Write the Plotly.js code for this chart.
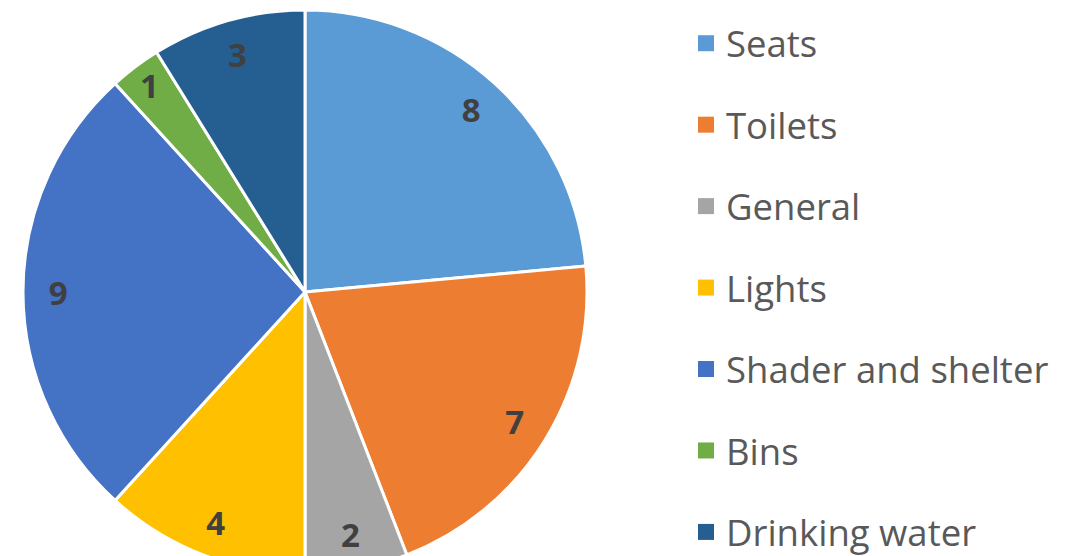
<!DOCTYPE html>
<html>
<head>
<meta charset="utf-8">
<script src="https://cdn.plot.ly/plotly-3.0.1.min.js"></script>
<style>
html, body { margin: 0; padding: 0; background: #ffffff; overflow: hidden; }
#chart { width: 1077px; height: 600px; }
</style>
</head>
<body>
<div id="chart"></div>
<script>
const categories = ["Seats", "Toilets", "General", "Lights", "Shader and shelter", "Bins", "Drinking water"];
const counts = [8, 7, 2, 4, 9, 1, 3];
const colors = ["#5B9BD5", "#ED7D31", "#A5A5A5", "#FFC000", "#4472C4", "#70AD47", "#255E91"];

const W = 1077, H = 600;
const pieDomain = { x: [23 / W, 587 / W], y: [1 - 574 / H, 1 - 10 / H] };

const traces = [];
// main pie
traces.push({
  type: "pie",
  labels: categories,
  values: counts,
  sort: false,
  direction: "clockwise",
  rotation: 0,
  marker: { colors: colors, line: { color: "#ffffff", width: 3 } },
  textinfo: "none",
  hoverinfo: "label+value",
  showlegend: false,
  domain: pieDomain
});
// label ring (transparent) to place value labels near outer edge
traces.push({
  type: "pie",
  labels: categories,
  values: counts,
  sort: false,
  direction: "clockwise",
  rotation: 0,
  hole: 0.75,
  marker: { colors: categories.map(() => "rgba(0,0,0,0)"), line: { width: 0 } },
  textinfo: "value",
  textposition: "inside",
  insidetextorientation: "horizontal",
  textfont: { family: "Open Sans, sans-serif", size: 33, color: "#404040", weight: "bold" },
  hoverinfo: "skip",
  showlegend: false,
  domain: pieDomain
});
// legend entries
categories.forEach((c, i) => {
  traces.push({
    type: "scatter",
    mode: "markers",
    x: [null], y: [null],
    name: c,
    legendgroup: "g" + i,
    marker: { symbol: "square", size: 18, color: colors[i] },
    hoverinfo: "skip",
    showlegend: true
  });
});

const layout = {
  width: W, height: H,
  margin: { l: 0, r: 0, t: 0, b: 0 },
  paper_bgcolor: "#ffffff",
  plot_bgcolor: "rgba(0,0,0,0)",
  xaxis: { visible: false, domain: [0.6, 0.61] },
  yaxis: { visible: false, domain: [0.5, 0.51] },
  uniformtext: { minsize: 33, mode: "show" },
  showlegend: true,
  legend: {
    x: 686 / W, xanchor: "left",
    y: 1 - 13 / H, yanchor: "top",
    font: { family: "Open Sans, sans-serif", size: 36.5, color: "#595959" },
    tracegroupgap: 31,
    itemwidth: 30,
    bgcolor: "rgba(0,0,0,0)"
  }
};

Plotly.newPlot("chart", traces, layout, { displayModeBar: false, staticPlot: true });
</script>
</body>
</html>
